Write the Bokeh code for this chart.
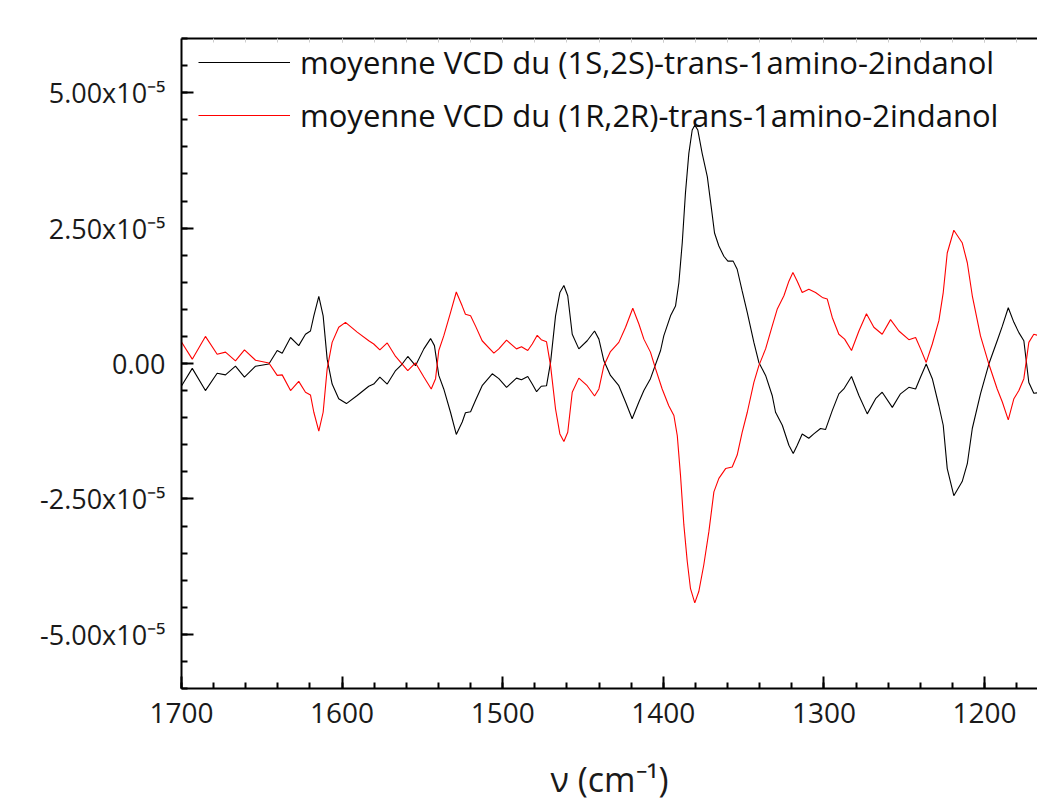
from bokeh.plotting import figure
from bokeh.models import (Range1d, SingleIntervalTicker, LinearAxis, CustomJSTickFormatter,
                          Legend, LegendItem, ColumnDataSource)
from bokeh.embed import file_html
from bokeh.resources import INLINE

FONT = "Open Sans"

# wavenumbers (cm-1) and VCD values (in units of 1e-5)
wn_1s2s = [1700.5, 1693.3, 1685.1, 1677.8, 1672.6, 1666.4, 1660.8, 1653.9, 1645.6, 1640.4,
           1637.3, 1632.1, 1627.0, 1622.8, 1619.7, 1617.6, 1614.5, 1611.8, 1609.3, 1606.2,
           1602.1, 1597.3, 1590.6, 1583.4, 1580.3, 1576.5, 1571.9, 1566.7, 1562.6, 1559.1,
           1554.3, 1549.1, 1544.9, 1542.5, 1539.8, 1536.7, 1532.5, 1528.9, 1525.2, 1523.2,
           1520.0, 1516.9, 1512.8, 1506.5, 1502.4, 1497.6, 1491.4, 1488.3, 1484.4, 1481.6,
           1478.9, 1476.0, 1472.7, 1470.2, 1467.1, 1464.4, 1461.9, 1459.5, 1456.7, 1452.6,
           1447.4, 1442.8, 1440.1, 1437.0, 1432.9, 1427.7, 1423.5, 1419.4, 1415.2, 1412.1,
           1408.0, 1401.7, 1399.7, 1395.5, 1392.4, 1390.3, 1388.2, 1386.2, 1384.1, 1382.0,
           1380.4, 1378.5, 1375.8, 1372.6, 1370.2, 1368.1, 1365.4, 1362.3, 1359.8, 1356.5,
           1354.0, 1350.9, 1347.7, 1343.6, 1340.5, 1336.3, 1332.2, 1330.1, 1325.9, 1321.8,
           1319.1, 1316.6, 1313.5, 1309.4, 1306.3, 1302.1, 1299.0, 1294.8, 1290.7, 1287.6,
           1282.8, 1278.2, 1273.0, 1267.8, 1263.7, 1257.4, 1252.3, 1247.1, 1242.9, 1239.8,
           1236.3, 1232.5, 1228.4, 1225.7, 1223.2, 1219.1, 1213.9, 1210.7, 1207.6, 1202.5,
           1197.3, 1192.1, 1188.9, 1185.2, 1181.7, 1178.6, 1175.5, 1172.4, 1169.3, 1167.0]
vcd_1s2s = [-0.44, -0.09, -0.50, -0.18, -0.21, -0.05, -0.25, -0.05, -0.01, 0.24,
            0.19, 0.48, 0.33, 0.54, 0.60, 0.88, 1.24, 0.88, 0.08, -0.38,
            -0.65, -0.74, -0.59, -0.42, -0.38, -0.25, -0.38, -0.13, -0.01, 0.13,
            -0.04, 0.27, 0.46, 0.33, -0.22, -0.47, -0.90, -1.31, -1.08, -0.91,
            -0.89, -0.68, -0.41, -0.19, -0.28, -0.44, -0.27, -0.30, -0.24, -0.38,
            -0.52, -0.42, -0.41, 0.02, 0.88, 1.31, 1.44, 1.25, 0.54, 0.27,
            0.42, 0.60, 0.45, 0.05, -0.22, -0.41, -0.71, -1.02, -0.71, -0.50,
            -0.28, 0.24, 0.51, 0.88, 1.06, 1.49, 2.23, 3.15, 3.88, 4.31,
            4.40, 4.31, 3.88, 3.45, 2.90, 2.41, 2.17, 1.98, 1.89, 1.89,
            1.74, 1.34, 0.94, 0.39, 0.02, -0.22, -0.59, -0.90, -1.14, -1.51,
            -1.66, -1.51, -1.30, -1.38, -1.30, -1.20, -1.22, -0.87, -0.56, -0.47,
            -0.24, -0.59, -0.93, -0.65, -0.53, -0.81, -0.56, -0.44, -0.47, -0.25,
            -0.01, -0.28, -0.78, -1.14, -1.94, -2.44, -2.18, -1.85, -1.20, -0.56,
            -0.01, 0.42, 0.69, 1.03, 0.76, 0.57, 0.42, -0.35, -0.55, -0.54]

wn_1r2r = [1700.5, 1693.3, 1685.1, 1677.8, 1672.6, 1666.4, 1660.8, 1653.9, 1645.6, 1640.4,
           1637.3, 1632.1, 1627.0, 1622.8, 1619.7, 1617.6, 1614.5, 1611.8, 1609.3, 1606.2,
           1602.1, 1597.9, 1590.6, 1583.4, 1580.3, 1576.5, 1571.9, 1566.7, 1562.6, 1559.1,
           1554.3, 1549.1, 1544.5, 1541.8, 1539.8, 1536.7, 1532.5, 1528.9, 1525.2, 1523.2,
           1520.0, 1516.9, 1512.8, 1505.5, 1502.4, 1497.6, 1491.4, 1488.3, 1484.4, 1481.6,
           1478.5, 1476.0, 1472.7, 1470.2, 1467.1, 1464.4, 1461.9, 1459.5, 1456.7, 1452.6,
           1447.4, 1442.8, 1440.1, 1437.0, 1432.9, 1427.7, 1423.5, 1419.0, 1415.2, 1412.1,
           1408.0, 1404.8, 1400.7, 1396.6, 1393.4, 1391.3, 1389.3, 1387.2, 1385.1, 1383.1,
           1380.4, 1377.9, 1374.8, 1371.6, 1368.5, 1365.4, 1361.2, 1357.1, 1354.0, 1350.9,
           1347.7, 1343.6, 1340.5, 1336.3, 1332.2, 1329.1, 1324.9, 1321.8, 1319.3, 1316.6,
           1313.5, 1309.4, 1305.2, 1301.0, 1297.9, 1294.8, 1290.7, 1287.1, 1282.8, 1278.2,
           1273.5, 1268.9, 1263.7, 1258.5, 1253.3, 1247.1, 1242.9, 1239.8, 1236.3, 1232.5,
           1228.4, 1225.7, 1223.2, 1219.1, 1213.9, 1210.7, 1207.6, 1202.5, 1197.3, 1192.1,
           1188.9, 1185.2, 1181.7, 1178.6, 1175.5, 1172.4, 1169.3, 1167.0]
vcd_1r2r = [0.42, 0.08, 0.50, 0.17, 0.21, 0.05, 0.25, 0.06, 0.01, -0.22,
            -0.21, -0.50, -0.33, -0.53, -0.58, -0.90, -1.25, -0.90, -0.10, 0.39,
            0.67, 0.76, 0.58, 0.42, 0.36, 0.25, 0.38, 0.13, -0.01, -0.13,
            0.01, -0.25, -0.47, -0.28, 0.24, 0.51, 0.94, 1.32, 1.06, 0.91,
            0.88, 0.69, 0.42, 0.19, 0.27, 0.43, 0.27, 0.31, 0.24, 0.36,
            0.52, 0.44, 0.40, -0.04, -0.84, -1.30, -1.44, -1.27, -0.53, -0.27,
            -0.41, -0.60, -0.47, -0.04, 0.22, 0.39, 0.67, 1.02, 0.73, 0.45,
            0.21, -0.10, -0.47, -0.78, -0.96, -1.33, -2.06, -2.98, -3.65, -4.15,
            -4.42, -4.21, -3.72, -3.10, -2.37, -2.12, -1.94, -1.91, -1.69, -1.27,
            -0.90, -0.35, -0.04, 0.27, 0.69, 1.00, 1.25, 1.52, 1.68, 1.52,
            1.31, 1.37, 1.31, 1.22, 1.19, 0.85, 0.54, 0.45, 0.24, 0.60,
            0.92, 0.67, 0.54, 0.81, 0.60, 0.44, 0.48, 0.27, 0.02, 0.36,
            0.79, 1.31, 2.04, 2.46, 2.23, 1.86, 1.25, 0.51, -0.01, -0.47,
            -0.71, -1.04, -0.65, -0.50, -0.28, 0.39, 0.54, 0.52]

labels = ["moyenne VCD du (1S,2S)-trans-1amino-2indanol",
          "moyenne VCD du (1R,2R)-trans-1amino-2indanol"]

SCALE = 1e-5

src_b = ColumnDataSource(dict(x=wn_1s2s, y=[v * SCALE for v in vcd_1s2s]))
src_r = ColumnDataSource(dict(x=wn_1r2r, y=[v * SCALE for v in vcd_1r2r]))

p = figure(width=1037, height=809, output_backend="svg", toolbar_location=None,
           x_range=Range1d(1700, 1167), y_range=Range1d(-6e-5, 6e-5),
           min_border_left=181, min_border_right=0, min_border_top=38, min_border_bottom=121)
p.grid.visible = False
p.outline_line_color = None
p.background_fill_color = "white"

rb = p.line("x", "y", source=src_b, line_color="black", line_width=1.1)
rr = p.line("x", "y", source=src_r, line_color="#ff0000", line_width=1.1)

for ax in (p.xaxis[0], p.yaxis[0]):
    ax.axis_line_width = 2
    ax.major_tick_line_width = 2
    ax.minor_tick_line_width = 2
    ax.major_tick_in = 12
    ax.major_tick_out = 0
    ax.minor_tick_in = 6
    ax.minor_tick_out = 0
    ax.major_label_text_font = FONT
    ax.major_label_text_color = "#1a1a1a"
    ax.axis_label_text_font = FONT
    ax.axis_label_text_font_style = "normal"
    ax.axis_label_text_color = "#1a1a1a"

p.xaxis.ticker = SingleIntervalTicker(interval=100, num_minor_ticks=5)
p.xaxis.major_label_text_font_size = "28px"
p.xaxis.major_label_standoff = 14
p.xaxis.axis_label = "ν (cm⁻¹)"
p.xaxis.axis_label_text_font_size = "34px"
p.xaxis.axis_label_standoff = 30

p.yaxis.ticker = SingleIntervalTicker(interval=2.5e-5, num_minor_ticks=5)
p.yaxis.major_label_text_font_size = "27px"
p.yaxis.major_label_standoff = 16
p.yaxis.formatter = CustomJSTickFormatter(code="""
if (Math.abs(tick) < 1e-12) { return "0.00"; }
return (tick / 1e-5).toFixed(2) + "x10\u207b\u2075";
""")

top = LinearAxis(ticker=SingleIntervalTicker(interval=100, num_minor_ticks=5),
                 formatter=CustomJSTickFormatter(code="return '';"),
                 axis_line_width=2, major_tick_in=4, major_tick_out=0,
                 minor_tick_in=4, minor_tick_out=0, major_label_standoff=0,
                 major_tick_line_color="#cccccc", minor_tick_line_color="#cccccc")
p.add_layout(top, "above")

legend = Legend(items=[LegendItem(label=labels[0], renderers=[rb]),
                       LegendItem(label=labels[1], renderers=[rr])],
                location=(17, 552), orientation="vertical",
                label_text_font=FONT, label_text_font_size="31px", label_text_color="#111111",
                glyph_width=92, glyph_height=40, label_height=40, label_standoff=10,
                spacing=11, padding=0, margin=0,
                border_line_color=None, background_fill_alpha=0)
p.add_layout(legend)

open("out.html", "w").write(file_html(p, INLINE))
